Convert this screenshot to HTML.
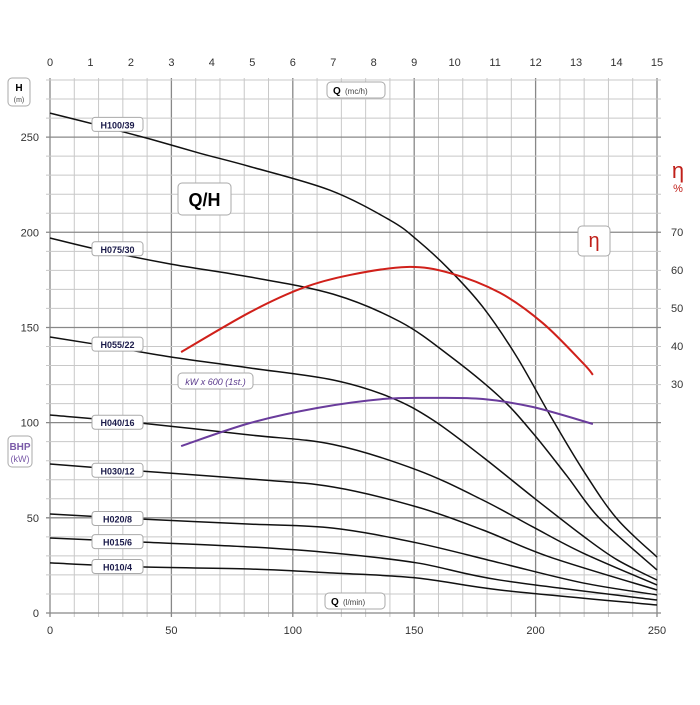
<!DOCTYPE html>
<html><head><meta charset="utf-8"><style>
body{margin:0;background:#fff;}
svg{font-family:"Liberation Sans",sans-serif;}
</style></head><body>
<svg id="c" width="700" height="700" viewBox="0 0 700 700"></svg>
<script>
const qTicks=[0,50,100,150,200,250];
const qm3Ticks=[0,1,2,3,4,5,6,7,8,9,10,11,12,13,14,15];
const hTicks=[0,50,100,150,200,250];
const etaTicks=[30,40,50,60,70];
const pumpNames=["H100/39","H075/30","H055/22","H040/16","H030/12","H020/8","H015/6","H010/4"];
const q100=[0,20.6,41.2,61.8,82.4,115.3,140,151.2,164.7,178.3,192.3,205.9,219.5,233.5,250];
const h100=[262.6,256,249,241.5,234.5,222.1,206.4,196,180.1,160.7,134.5,104,75.1,49.5,29.4];
const q075=[0,20.6,49.8,82.4,116.6,144.2,164.7,185.3,198.9,212.9,226.5,250];
const h075=[197,190.7,183.3,176.5,167.5,153,135,113.4,94.5,72,49.5,22.6];
const q055=[0,20.6,49.8,82.4,116.6,140,157.7,178.3,198.9,219.5,233.5,250];
const h055=[145,140.8,134.5,128.7,122.4,113.4,101.4,81.9,60.9,40.5,28,17.3];
const q040=[0,37.1,82.4,116.6,151.2,178.3,198.9,219.5,250];
const h040=[104,99.8,93.5,88.5,75.1,59.3,45.2,31.5,14.7];
const q030=[0,37.1,82.4,116.6,151.2,178.3,205.9,250];
const h030=[78.3,74.6,70.4,66.2,55.7,43.6,29.4,12.1];
const q020=[0,37.1,82.4,116.6,151.2,185.3,219.5,250];
const h020=[52,49.4,46.7,44.6,36.8,26.3,15.8,9.5];
const q015=[0,37.1,82.4,116.6,151.2,185.3,250];
const h015=[39.4,37.3,34.7,31.5,26.3,17.3,6.8];
const q010=[0,37.1,82.4,116.6,151.2,185.3,250];
const h010=[26.3,24.2,23.1,21,18.4,12.1,4.2];
const qEta=[54,82.4,104.2,123.6,147,164.7,185.3,203,219.5,223.6];
const vEta=[38.4,48.9,55.3,58.7,60.8,59.2,54,46,35.5,32.4];
const qKw=[54,82.4,110,137,157.7,178.3,198.9,223.6];
const vKw=[87.7,99.8,107.7,112.4,113,112.4,108.2,99.3];

const X0=50,X1=657,Y0=613,Y1=80;
const sx=q=>X0+q*(X1-X0)/250;
const sy=h=>Y0-h*(Y0-Y1)/280;
const se=e=>232+(70-e)*3.8;
const NS="http://www.w3.org/2000/svg";
const svg=document.getElementById('c');
function mk(tag,attrs,parent){const e=document.createElementNS(NS,tag);for(const k in attrs)e.setAttribute(k,attrs[k]);(parent||svg).appendChild(e);return e;}
function path(qs,vs,fy){const p=qs.map((q,i)=>[sx(q),fy(vs[i])]);let d="M"+p[0][0]+","+p[0][1];
 for(let i=0;i<p.length-1;i++){const a=p[Math.max(0,i-1)],b=p[i],c=p[i+1],e=p[Math.min(p.length-1,i+2)];
 d+=" C"+(b[0]+(c[0]-a[0])/6)+","+(b[1]+(c[1]-a[1])/6)+" "+(c[0]-(e[0]-b[0])/6)+","+(c[1]-(e[1]-b[1])/6)+" "+c[0]+","+c[1];}return d;}
for(let q=0;q<=250;q+=10){const l=mk('line',{x1:sx(q),x2:sx(q),y1:Y1-2,y2:Y0+4,stroke:q%50==0?'#888':'#c8c8c8','stroke-width':q%50==0?1.3:1});
}
for(let h=0;h<=280;h+=10){const l=mk('line',{x1:X0-4,x2:X1+4,y1:sy(h),y2:sy(h),stroke:h%50==0?'#888':'#c8c8c8','stroke-width':h%50==0?1.3:1});
}
qTicks.forEach(q=>{const t=mk('text',{x:sx(q),y:634,'text-anchor':'middle','font-size':11,fill:'#333'});t.textContent=q;
});
qm3Ticks.forEach(q=>{const t=mk('text',{x:X0+q*(X1-X0)/15,y:66,'text-anchor':'middle','font-size':11,fill:'#333'});t.textContent=q;
});
hTicks.forEach(h=>{const t=mk('text',{x:39,y:sy(h)+4,'text-anchor':'end','font-size':11,fill:'#333'});t.textContent=h;
});
etaTicks.forEach(e=>{const t=mk('text',{x:671,y:se(e)+4,'font-size':11,fill:'#333'});t.textContent=e;
});
const qs=[q100,q075,q055,q040,q030,q020,q015,q010],hs=[h100,h075,h055,h040,h030,h020,h015,h010];
qs.forEach((q,i)=>{const p=mk('path',{d:path(q,hs[i],sy),fill:'none',stroke:'#111','stroke-width':1.5});
});
const pe=mk('path',{d:path(qEta,vEta,se),fill:'none',stroke:'#d0201a','stroke-width':2});

const pk=mk('path',{d:path(qKw,vKw,sy),fill:'none',stroke:'#6a3c9c','stroke-width':2});

qs.forEach((q,i)=>{const y=sy(hs[i][0]+(hs[i][1]-hs[i][0])*0.9);
const r=mk('rect',{x:92,y:y-7,width:51,height:14,rx:3,fill:'#fff',stroke:'#aaa'});

const t=mk('text',{x:117.5,y:y+4,'text-anchor':'middle','font-size':9,'font-weight':'bold',fill:'#1a1a4a'});t.textContent=pumpNames[i];
});
function box(x,y,w,h,name){const r=mk('rect',{x,y,width:w,height:h,rx:4,fill:'#fff',stroke:'#aaa'});}
function txt(x,y,s,attrs,name){const t=mk('text',Object.assign({x,y},attrs));t.textContent=s;return t;}
box(327,82,58,16,'q-top-box');txt(333,94,'Q',{'font-size':10,'font-weight':'bold'},'q-top-title');txt(345,94,'(mc/h)',{'font-size':8,fill:'#444'},'q-top-unit');
box(325,593,60,16,'q-bottom-box');txt(331,605,'Q',{'font-size':10,'font-weight':'bold'},'x-axis-title');txt(343,605,'(l/min)',{'font-size':8,fill:'#444'},'x-axis-unit');
box(178,183,53,32,'qh-box');txt(204.5,206,'Q/H',{'font-size':18,'font-weight':'bold','text-anchor':'middle'},'qh-title');
box(578,226,32,30,'eta-box');txt(594,247,'η',{'font-size':20,fill:'#c0201a','text-anchor':'middle'},'eta-label');
box(178,373,75,16,'kw-box');txt(215.5,385,'kW x 600 (1st.)',{'font-size':9,'font-style':'italic',fill:'#5a3a8c','text-anchor':'middle'},'kw-label');
box(8,78,22,28,'h-unit-box');txt(19,91,'H',{'font-size':10,'font-weight':'bold','text-anchor':'middle'},'y-axis-title');txt(19,102,'(m)',{'font-size':7,fill:'#444','text-anchor':'middle'},'y-axis-unit');
box(8,436,24,31,'bhp-box');txt(20,450,'BHP',{'font-size':10,'font-weight':'bold',fill:'#7a5aa8','text-anchor':'middle'},'bhp-title');txt(20,462,'(kW)',{'font-size':9,fill:'#7a5aa8','text-anchor':'middle'},'bhp-unit');
txt(678,178,'η',{'font-size':22,fill:'#c0201a','text-anchor':'middle'},'eta-axis-title');txt(678,192,'%',{'font-size':11,fill:'#c0201a','text-anchor':'middle'},'eta-axis-unit');
</script>
</body></html>
